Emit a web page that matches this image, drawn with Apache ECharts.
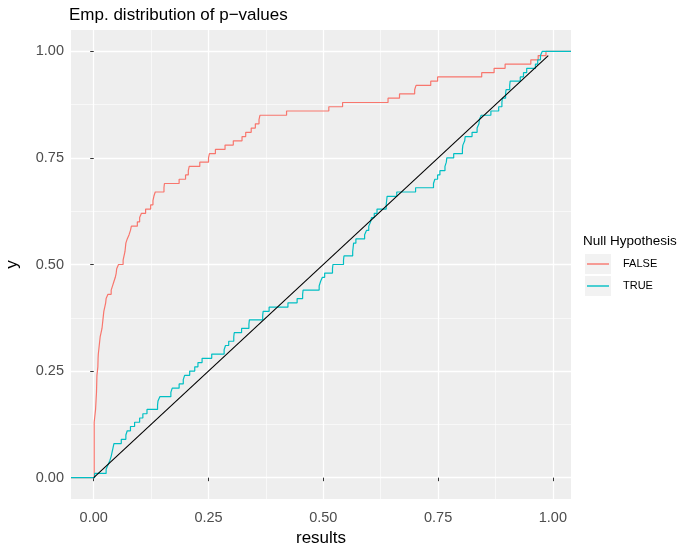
<!DOCTYPE html>
<html><head><meta charset="utf-8">
<script src="https://cdn.jsdelivr.net/npm/echarts@6/dist/echarts.min.js"></script>
<style>html,body{margin:0;padding:0;background:#fff}#c{width:682px;height:546px}</style>
</head><body><div id="c"></div>
<script>
// ---- data (ECDF step positions) ----
const falseX = [0.001,0.002,0.003,0.004,0.005,0.006,0.0065,0.007,0.008,0.009,0.0095,0.010,0.011,0.012,0.013,0.014,0.016,0.018,0.019,0.020,0.021,0.022,0.024,0.026,0.027,0.031,0.038,0.041,0.044,0.047,0.049,0.050,0.054,0.064,0.066,0.068,0.069,0.070,0.073,0.077,0.080,0.082,0.095,0.100,0.104,0.113,0.124,0.129,0.131,0.134,0.153,0.154,0.186,0.200,0.206,0.208,0.231,0.250,0.252,0.265,0.286,0.304,0.323,0.331,0.343,0.352,0.360,0.362,0.420,0.512,0.542,0.641,0.666,0.699,0.702,0.734,0.749,0.845,0.872,0.896,0.952,0.968,0.985];
const falseY = [0.13,0.14,0.15,0.16,0.18,0.20,0.22,0.24,0.25,0.26,0.28,0.29,0.30,0.31,0.32,0.33,0.34,0.35,0.36,0.37,0.38,0.39,0.40,0.41,0.42,0.43,0.44,0.45,0.46,0.47,0.48,0.49,0.50,0.51,0.52,0.53,0.54,0.55,0.56,0.57,0.58,0.59,0.60,0.61,0.62,0.63,0.64,0.65,0.66,0.67,0.68,0.69,0.70,0.71,0.72,0.73,0.74,0.75,0.76,0.77,0.78,0.79,0.80,0.81,0.82,0.83,0.84,0.85,0.86,0.87,0.88,0.89,0.90,0.91,0.92,0.93,0.94,0.95,0.96,0.97,0.98,0.99,1.00];
const trueX = [0.002,0.027,0.031,0.035,0.038,0.040,0.042,0.044,0.060,0.070,0.073,0.080,0.089,0.100,0.107,0.116,0.139,0.140,0.144,0.168,0.171,0.186,0.195,0.198,0.209,0.220,0.227,0.236,0.257,0.284,0.287,0.294,0.305,0.306,0.322,0.338,0.339,0.368,0.369,0.382,0.423,0.443,0.455,0.456,0.491,0.494,0.498,0.503,0.520,0.521,0.544,0.545,0.564,0.565,0.566,0.571,0.590,0.594,0.599,0.603,0.605,0.611,0.617,0.637,0.638,0.639,0.660,0.701,0.740,0.743,0.749,0.754,0.765,0.768,0.769,0.784,0.803,0.804,0.808,0.809,0.824,0.835,0.839,0.840,0.844,0.865,0.882,0.889,0.890,0.897,0.898,0.906,0.907,0.929,0.936,0.943,0.962,0.967,0.973,0.977];
const trueY = [0.01,0.02,0.03,0.04,0.05,0.06,0.07,0.08,0.09,0.10,0.11,0.12,0.13,0.14,0.15,0.16,0.17,0.18,0.19,0.20,0.21,0.22,0.23,0.24,0.25,0.26,0.27,0.28,0.29,0.30,0.31,0.32,0.33,0.34,0.35,0.36,0.37,0.38,0.39,0.40,0.41,0.42,0.43,0.44,0.45,0.46,0.47,0.48,0.49,0.50,0.51,0.52,0.53,0.54,0.55,0.56,0.57,0.58,0.59,0.60,0.61,0.62,0.63,0.64,0.65,0.66,0.67,0.68,0.69,0.70,0.71,0.72,0.73,0.74,0.75,0.76,0.77,0.78,0.79,0.80,0.81,0.82,0.83,0.84,0.85,0.86,0.87,0.88,0.89,0.90,0.91,0.92,0.93,0.94,0.95,0.96,0.97,0.98,0.99,1.00];
const diagX = [0, 0.99];
const diagY = [0, 0.99];
const seriesNames = ['FALSE', 'TRUE'];
const xTicks = [0, 0.25, 0.5, 0.75, 1];
const yTicks = [0, 0.25, 0.5, 0.75, 1];
const xMinor = [0.125, 0.375, 0.625, 0.875];
const yMinor = [0.125, 0.375, 0.625, 0.875];
const X_MIN = -0.0495, X_MAX = 1.0395, Y_MIN = -0.05, Y_MAX = 1.05;

const FONT = 'Liberation Sans, Arial, sans-serif';
function ecdf(xs, ys) {
  const pts = [[X_MIN, 0]];
  xs.forEach((x, i) => pts.push([x, ys[i]]));
  pts.push([X_MAX, 1]);
  return pts;
}
const fmt = v => v.toFixed(2);

const chart = echarts.init(document.getElementById('c'), null, {renderer: 'canvas'});
const baseAxis = (min, max) => ({type: 'value', min: min, max: max});
chart.setOption({
  animation: false,
  backgroundColor: '#ffffff',
  textStyle: {fontFamily: FONT},
  title: [
    {text: 'Emp. distribution of p\u2212values', left: 69, top: 7, padding: 0,
     textStyle: {fontSize: 17, fontWeight: 'normal', color: '#000', fontFamily: FONT}},
    {text: 'Null Hypothesis', left: 583, top: 234, padding: 0,
     textStyle: {fontSize: 13.5, fontWeight: 'normal', color: '#000', fontFamily: FONT}}
  ],
  grid: {left: 71, right: 111, top: 30, bottom: 47, show: true, backgroundColor: '#EEEEEE', borderWidth: 0,
         outerBoundsMode: 'none', containLabel: false},
  legend: {
    data: seriesNames, orient: 'vertical', left: 587, top: 256, padding: 0,
    icon: 'path://M0,0H22V1.4H0Z', itemWidth: 22, itemHeight: 1.4, itemGap: 6,
    textStyle: {fontSize: 11, color: '#000', fontFamily: FONT, lineHeight: 16, padding: [0, 0, 0, 9]},
    selectedMode: false
  },
  graphic: [
    {type: 'rect', left: 585, top: 254, shape: {width: 26, height: 20}, style: {fill: '#F2F2F2'}, z: -1},
    {type: 'rect', left: 585, top: 276, shape: {width: 26, height: 20}, style: {fill: '#F2F2F2'}, z: -1}
  ],
  xAxis: [
    Object.assign(baseAxis(X_MIN, X_MAX), {
      axisLine: {show: false},
      axisTick: {show: true, customValues: xTicks, length: 3.5, lineStyle: {color: '#333', width: 1}},
      axisLabel: {customValues: xTicks, formatter: fmt, color: '#4D4D4D', fontSize: 14.5, margin: 11, fontFamily: FONT},
      splitLine: {show: true, lineStyle: {color: '#fff', width: 1.3}},
      name: 'results', nameLocation: 'middle', nameGap: 30,
      nameTextStyle: {fontSize: 17, color: '#000', fontFamily: FONT}
    }),
    Object.assign(baseAxis(X_MIN, X_MAX), {
      position: 'bottom',
      axisLine: {show: false}, axisLabel: {show: false},
      axisTick: {show: false, customValues: xMinor},
      splitLine: {show: true, lineStyle: {color: '#fff', width: 0.6}}
    })
  ],
  yAxis: [
    Object.assign(baseAxis(Y_MIN, Y_MAX), {
      axisLine: {show: false},
      axisTick: {show: true, customValues: yTicks, length: 3.5, lineStyle: {color: '#333', width: 1}},
      axisLabel: {customValues: yTicks, formatter: fmt, color: '#4D4D4D', fontSize: 14.5, margin: 7, fontFamily: FONT},
      splitLine: {show: true, lineStyle: {color: '#fff', width: 1.3}},
      name: 'y', nameLocation: 'middle', nameGap: 50, nameRotate: 90,
      nameTextStyle: {fontSize: 17, color: '#000', fontFamily: FONT}
    }),
    Object.assign(baseAxis(Y_MIN, Y_MAX), {
      position: 'left',
      axisLine: {show: false}, axisLabel: {show: false},
      axisTick: {show: false, customValues: yMinor},
      splitLine: {show: true, lineStyle: {color: '#fff', width: 0.6}}
    })
  ],
  series: [
    {name: seriesNames[0], type: 'line', step: 'end', data: ecdf(falseX, falseY), showSymbol: false, symbol: 'none',
     lineStyle: {color: '#F8766D', width: 1.2}, itemStyle: {color: '#F8766D'}, z: 2},
    {name: seriesNames[1], type: 'line', step: 'end', data: ecdf(trueX, trueY), showSymbol: false, symbol: 'none',
     lineStyle: {color: '#00BFC4', width: 1.2}, itemStyle: {color: '#00BFC4'}, z: 3},
    {name: 'diag', type: 'line', data: diagX.map((x, i) => [x, diagY[i]]), showSymbol: false, symbol: 'none',
     lineStyle: {color: '#000', width: 1.1}, itemStyle: {color: '#000'}, z: 4}
  ]
});
</script></body></html>
